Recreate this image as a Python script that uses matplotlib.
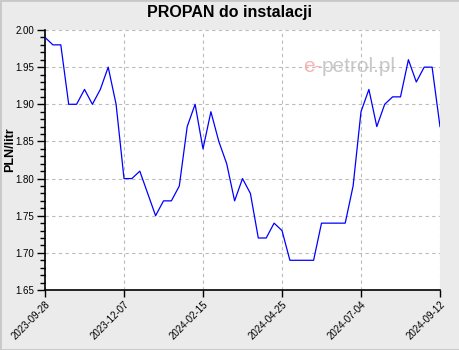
import matplotlib
matplotlib.use("Agg")
import matplotlib.pyplot as plt
from matplotlib.ticker import MultipleLocator, FormatStrFormatter
import datetime as dt

start_date = "2023-09-28"
prices = [1.99, 1.98, 1.98, 1.90, 1.90, 1.92, 1.90, 1.92, 1.95, 1.90,
          1.80, 1.80, 1.81, 1.78, 1.75, 1.77, 1.77, 1.79, 1.87, 1.90,
          1.84, 1.89, 1.85, 1.82, 1.77, 1.80, 1.78, 1.72, 1.72, 1.74,
          1.73, 1.69, 1.69, 1.69, 1.69, 1.74, 1.74, 1.74, 1.74, 1.79,
          1.89, 1.92, 1.87, 1.90, 1.91, 1.91, 1.96, 1.93, 1.95, 1.95,
          1.87]
tick_labels = ["2023-09-28", "2023-12-07", "2024-02-15", "2024-04-25",
               "2024-07-04", "2024-09-12"]
title = "PROPAN do instalacji"
ylabel = "PLN/litr"

plt.rcParams["font.family"] = ["Liberation Sans", "DejaVu Sans"]

d0 = dt.date.fromisoformat(start_date)
dates = [d0 + dt.timedelta(days=7 * i) for i in range(len(prices))]
tick_dates = [dt.date.fromisoformat(t) for t in tick_labels]

fig = plt.figure(figsize=(4.6, 3.5), dpi=100, facecolor="#EBEBEB")
fig.patches.append(plt.Rectangle((0, 0), 1, 1, transform=fig.transFigure,
                                 fill=False, edgecolor="#C8C8C8", lw=2))
ax = fig.add_axes([45/460, 60/350, 395/460, 260/350])
ax.set_facecolor("white")

ax.plot(dates, prices, color="#0000FF", lw=0.9, zorder=3)

ax.set_xlim(tick_dates[0], tick_dates[-1])
ax.set_ylim(1.65, 2.00)
ax.set_xticks(tick_dates)
ax.set_xticklabels(tick_labels, rotation=45, ha="right", rotation_mode="anchor",
                   fontsize=7)
ax.yaxis.set_major_locator(MultipleLocator(0.05))
ax.yaxis.set_minor_locator(MultipleLocator(0.01))
ax.yaxis.set_major_formatter(FormatStrFormatter("%.2f"))
ax.tick_params(axis="y", which="major", length=6, width=1, labelsize=7, pad=2)
ax.tick_params(axis="y", which="minor", length=3.5, width=1)
ax.tick_params(axis="x", which="major", length=5, width=1, pad=2)

ax.grid(True, which="major", color="#BBBBBB", ls=(0, (3, 3)), lw=0.8)
for s in ["top", "right"]:
    ax.spines[s].set_visible(False)
for s in ["left", "bottom"]:
    ax.spines[s].set_linewidth(1.2)

ax.set_ylabel(ylabel, fontsize=9, fontweight="bold")
ax.yaxis.set_label_coords(-29/395, 140/260)
fig.text(0.5, 0.963, title, ha="center", va="center", fontsize=11.5,
         fontweight="bold")

# watermark
ax.text(0.70, 0.86, "e-", transform=ax.transAxes, ha="right",
        va="center", fontsize=15, color="#F7B5B5", zorder=1)
ax.text(0.70, 0.86, "petrol.pl", transform=ax.transAxes, ha="left",
        va="center", fontsize=15, color="#C8C8C8", zorder=1)

fig.savefig("out.png", dpi=100, facecolor=fig.get_facecolor())
